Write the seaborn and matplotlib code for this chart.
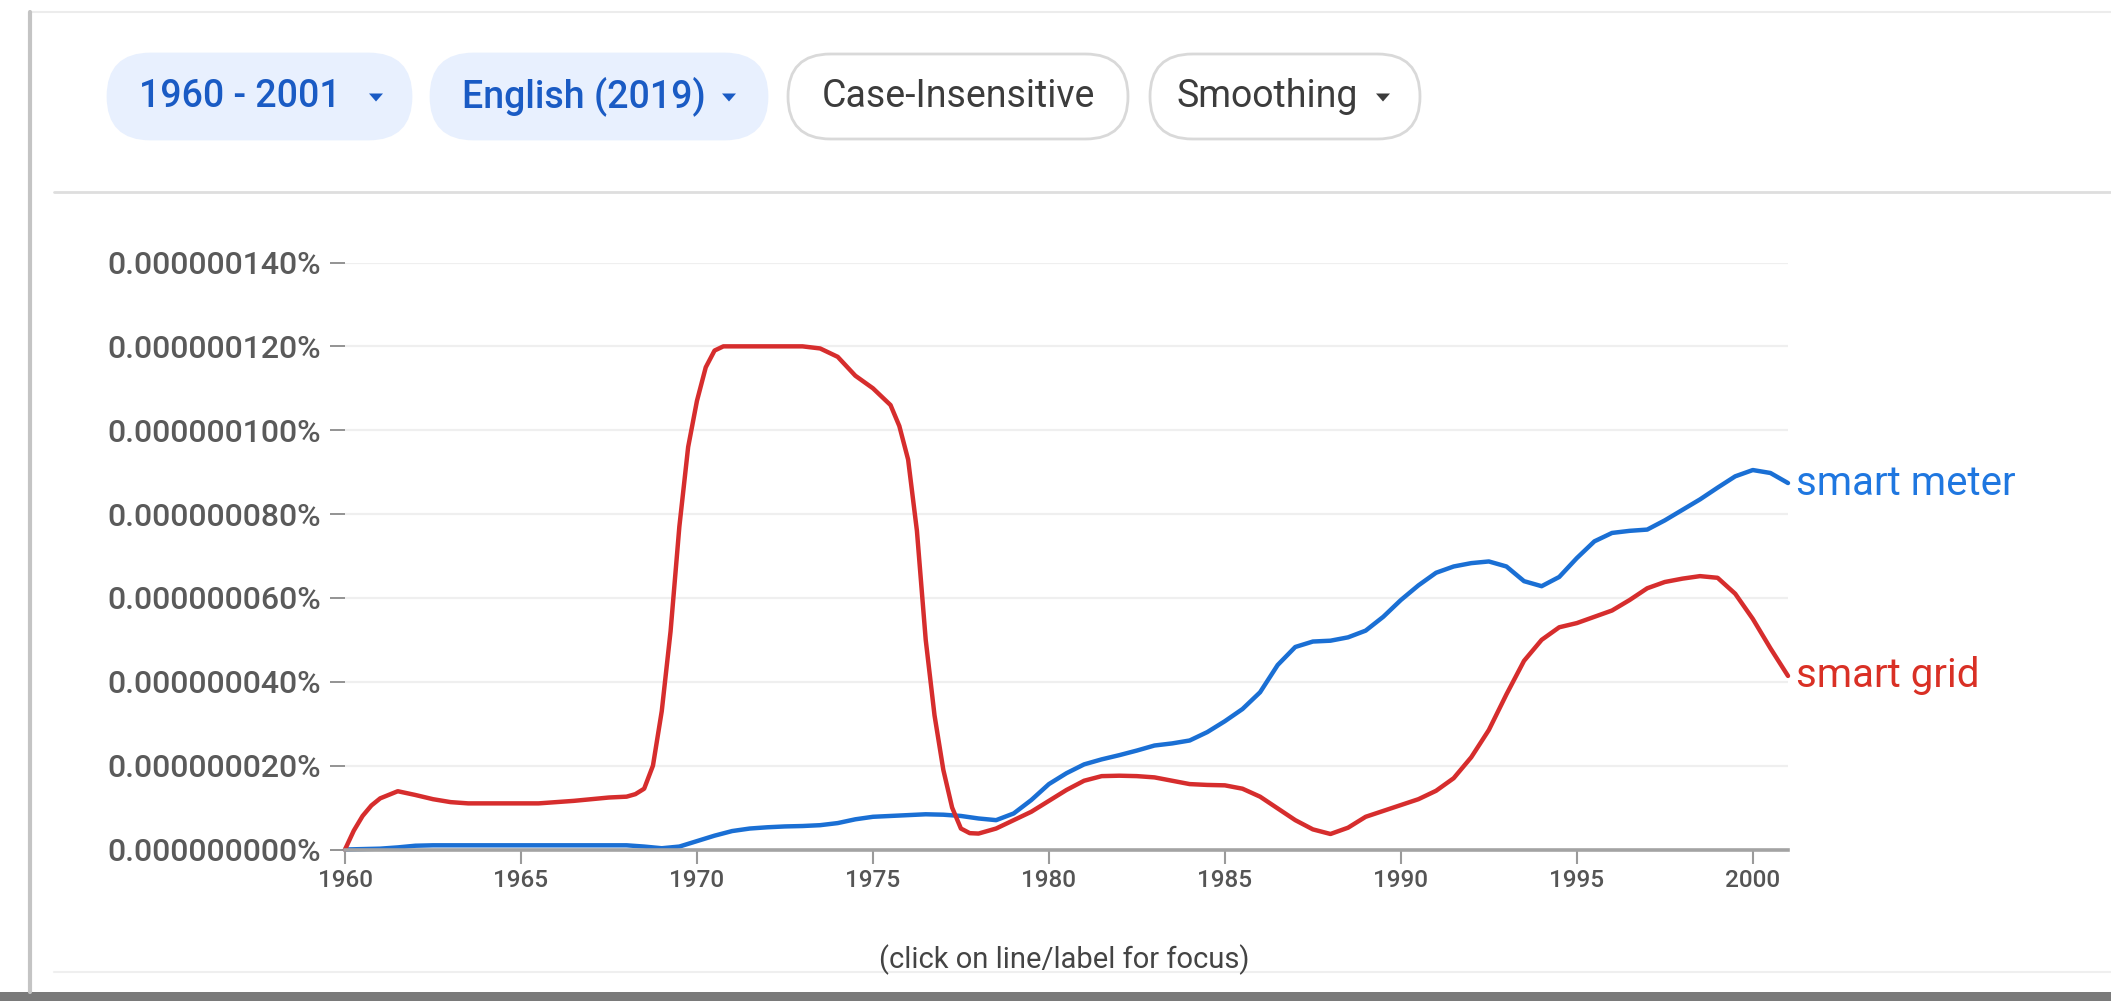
import numpy as np
import pandas as pd
import matplotlib
matplotlib.use("Agg")
import matplotlib.pyplot as plt
import seaborn as sns
from matplotlib.patches import FancyBboxPatch, Polygon, Rectangle

# ---------------- data (units of 0.000000001 %) ----------------
meter_years = np.arange(1960, 2001.01, 0.5)
smart_meter = [
    0, 0.1, 0.2, 0.5, 0.9, 1, 1, 1, 1, 1, 1, 1, 1, 1, 1, 1, 1, 0.7,
    0.3, 0.7, 2, 3.3, 4.4, 5, 5.3, 5.5, 5.6, 5.8, 6.3, 7.2, 7.8, 8,
    8.2, 8.4, 8.3, 8, 7.4, 7, 8.6, 11.8, 15.6, 18.2, 20.3, 21.5, 22.5, 23.6,
    24.8, 25.3, 26, 28, 30.6, 33.5, 37.5, 44, 48.3, 49.6, 49.8, 50.6, 52.2, 55.5,
    59.5, 63, 66, 67.5, 68.3, 68.7, 67.5, 64, 62.8, 65, 69.5, 73.5, 75.5, 76,
    76.3, 78.5, 81, 83.5, 86.3, 89, 90.5, 89.8, 87.4,
]

grid_years = [
    1960, 1960.25, 1960.5, 1960.75, 1961, 1961.5, 1962, 1962.5, 1963, 1963.5,
    1964, 1964.5, 1965, 1965.5, 1966, 1966.5, 1967, 1967.5, 1968, 1968.25,
    1968.5, 1968.75, 1969, 1969.25, 1969.5, 1969.75, 1970, 1970.25, 1970.5, 1970.75,
    1971, 1971.5, 1972, 1972.5, 1973, 1973.5, 1974, 1974.5, 1975, 1975.5,
    1975.75, 1976, 1976.25, 1976.5, 1976.75, 1977, 1977.25, 1977.5, 1977.75, 1978,
    1978.5, 1979, 1979.5, 1980, 1980.5, 1981, 1981.5, 1982, 1982.5, 1983,
    1983.5, 1984, 1984.5, 1985, 1985.5, 1986, 1986.5, 1987, 1987.5, 1988,
    1988.5, 1989, 1989.5, 1990, 1990.5, 1991, 1991.5, 1992, 1992.5, 1993,
    1993.5, 1994, 1994.5, 1995, 1995.5, 1996, 1996.5, 1997, 1997.5, 1998,
    1998.5, 1999, 1999.5, 2000, 2000.5, 2001,
]
smart_grid = [
    0, 4.5, 8, 10.5, 12.2, 13.9, 13, 12, 11.3, 11,
    11, 11, 11, 11, 11.3, 11.6, 12, 12.4, 12.6, 13.2,
    14.5, 20, 33, 52, 77, 96, 107, 115, 119, 120,
    120, 120, 120, 120, 120, 119.5, 117.5, 113, 110, 106,
    101, 93, 76, 50, 32, 19, 10, 5, 3.9, 3.8,
    5, 7, 9, 11.6, 14.2, 16.4, 17.5, 17.6, 17.5, 17.2,
    16.4, 15.6, 15.4, 15.3, 14.5, 12.6, 9.8, 7, 4.8, 3.7,
    5.2, 7.8, 9.2, 10.6, 12, 14, 17, 22, 28.5, 37,
    45, 50, 53, 54, 55.5, 57, 59.5, 62.3, 63.8, 64.6,
    65.2, 64.8, 61, 55, 48, 41.4,
]

terms = ["smart meter", "smart grid"]
line_colors = {"smart meter": "#1a6fd4", "smart grid": "#d62d2d"}
label_colors = {"smart meter": "#1f77e0", "smart grid": "#d93025"}
y_ticks = [0, 20, 40, 60, 80, 100, 120, 140]
x_ticks = [1960, 1965, 1970, 1975, 1980, 1985, 1990, 1995, 2000]
buttons = ["1960 - 2001", "English (2019)", "Case-Insensitive", "Smoothing"]
footnote = "(click on line/label for focus)"

df = pd.concat([
    pd.DataFrame({"year": meter_years, "value": smart_meter, "term": "smart meter"}),
    pd.DataFrame({"year": grid_years, "value": smart_grid, "term": "smart grid"}),
])

# ---------------- figure ----------------
sns.set_theme(style="white")
plt.rcParams["font.family"] = ["Roboto", "DejaVu Sans"]

W, H = 2111, 1001
fig = plt.figure(figsize=(W / 100, H / 100), dpi=100)
fig.patch.set_facecolor("white")

# overlay in pixel coordinates for page chrome
ov = fig.add_axes([0, 0, 1, 1], zorder=0)
ov.set_xlim(0, W)
ov.set_ylim(H, 0)
ov.axis("off")

# card frame
ov.plot([30, W], [12, 12], color="#ececec", lw=1.5)
ov.plot([30, 30], [12, 992], color="#c4c4c4", lw=3)
ov.plot([54, W], [192, 192], color="#dedede", lw=2)
ov.plot([54, W], [972, 972], color="#efefef", lw=1.5)
ov.add_patch(Rectangle((0, 992), W, 9, color="#7a7a7a", lw=0))

# pill buttons
pill_y0, pill_h = 54, 85
pills = [
    (108, 411, "#e8f0fe", None, "#1a5bc4", 139, 376, 500),
    (431, 767, "#e8f0fe", None, "#1a5bc4", 462, 729, 500),
    (788, 1128, "white", "#d9d9d9", "#3c3c3c", None, None, 400),
    (1150, 1420, "white", "#d9d9d9", "#3c3c3c", 1176, 1383, 400),
]
for (x0, x1, fc, ec, tc, tx, trix, fw), label in zip(pills, buttons):
    ov.add_patch(FancyBboxPatch((x0, pill_y0), x1 - x0, pill_h,
                                boxstyle=f"round,pad=0,rounding_size={pill_h/2}",
                                fc=fc, ec=ec if ec else fc, lw=2))
    cy = pill_y0 + pill_h / 2
    if tx is None:
        ov.text((x0 + x1) / 2, cy, label, ha="center", va="center",
                fontsize=27, color=tc, fontweight=fw)
    else:
        ov.text(tx, cy, label, ha="left", va="center",
                fontsize=27, color=tc, fontweight=fw)
    if trix is not None:
        ov.add_patch(Polygon([[trix - 7, cy - 3], [trix + 7, cy - 3], [trix, cy + 5]],
                             closed=True, color=tc, lw=0))

ov.text(1064, 960, footnote, ha="center", va="center", fontsize=21, color="#444444")

# ---------------- main chart ----------------
ax = fig.add_axes([345 / W, 1 - 849.5 / H, (1788 - 345) / W, (849.5 - 262.5) / H], zorder=2)
ax.patch.set_alpha(0)

sns.lineplot(data=df, x="year", y="value", hue="term", hue_order=terms,
             palette=line_colors, linewidth=3.2, legend=False, ax=ax,
             estimator=None, sort=False)
for ln in ax.lines:
    ln.set_clip_on(False)
    ln.set_solid_capstyle("round")
    ln.set_solid_joinstyle("round")

ax.set_xlim(1960, 2001)
ax.set_ylim(0, 140)
ax.set_xlabel("")
ax.set_ylabel("")

ax.set_yticks(y_ticks)
ax.set_yticklabels([f"0.{v:09d}%" for v in y_ticks], fontweight=500)
ax.set_xticks(x_ticks)
ax.set_xticklabels([str(x) for x in x_ticks], fontweight=500)

ax.yaxis.grid(True, color="#efefef", lw=1.6)
ax.xaxis.grid(False)
ax.set_axisbelow(True)

for s in ["top", "right", "left"]:
    ax.spines[s].set_visible(False)
ax.spines["bottom"].set_color("#a3a3a3")
ax.spines["bottom"].set_linewidth(2.6)

ax.tick_params(axis="y", which="both", left=True, length=10.5, width=1.3,
               color="#8a8a8a", pad=7, labelsize=23, labelcolor="#5a5a5a")
ax.tick_params(axis="x", which="both", bottom=True, length=10, width=1.5,
               color="#9a9a9a", pad=4, labelsize=17.5, labelcolor="#555555")

# end-of-line labels
for term, xs, vals in [("smart meter", meter_years, smart_meter),
                       ("smart grid", grid_years, smart_grid)]:
    ax.annotate(term, xy=(xs[-1], vals[-1]), xytext=(6, 0),
                textcoords="offset points", ha="left", va="center",
                fontsize=29, color=label_colors[term], annotation_clip=False)

fig.savefig("out.png", dpi=100, facecolor="white")
